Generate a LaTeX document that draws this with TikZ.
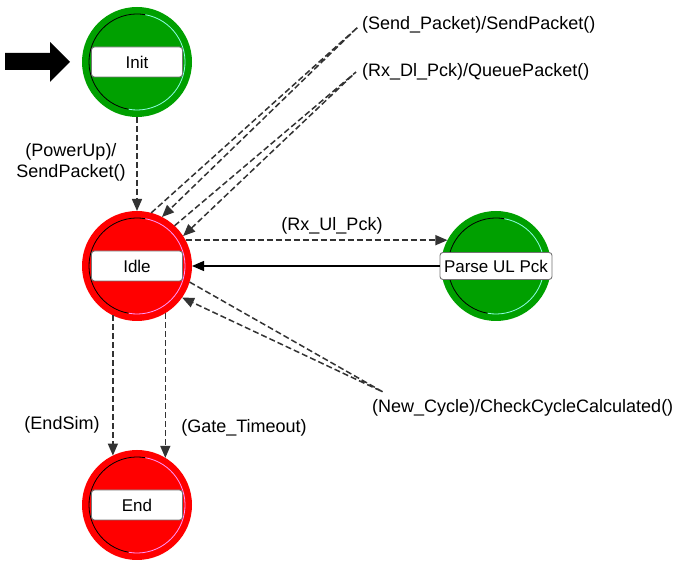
\documentclass[tikz,border=0pt]{standalone}
\usepackage{fontspec}
\setmainfont{Liberation Sans}
\usetikzlibrary{arrows.meta}
\definecolor{stgreen}{RGB}{0,160,0}
\definecolor{stred}{RGB}{255,0,0}
\definecolor{ringcyan}{RGB}{140,255,230}
\definecolor{ringpink}{RGB}{255,150,255}
\begin{document}
\begin{tikzpicture}[x=1pt,y=1pt,
  stcircle/.style={circle, minimum size=110pt, inner sep=0pt, outer sep=0pt},
  stbox/.style={draw=black!55, fill=white, rounded corners=3pt, line width=0.9pt,
    minimum height=30pt, minimum width=91pt, inner sep=0pt, font=\fontsize{17}{20}\selectfont},
  tip/.style={-{Triangle[length=12pt,width=10pt]}},
  trans/.style={draw=black!80, line width=1.5pt, dash pattern=on 6pt off 3pt, tip},
  lbl/.style={font=\fontsize{18}{21}\selectfont, inner sep=0pt}]
\useasboundingbox (0,0) rectangle (676,561);

% states
\node[stcircle, fill=stgreen] (init)  at (137,499) {};
\node[stcircle, fill=stred]   (idle)  at (137,295) {};
\node[stcircle, fill=stred]   (endn)  at (137,56)  {};
\node[stcircle, fill=stgreen] (parse) at (496,295) {};

% inner rings
\foreach \n/\c in {init/ringcyan, idle/ringpink, endn/ringpink, parse/ringcyan}{
  \draw[black, line width=0.8pt] (\n.center) ++(80:48) arc[start angle=80, end angle=260, radius=48];
  \draw[\c, line width=0.8pt] (\n.center) ++(260:48) arc[start angle=260, end angle=440, radius=48];
}

% labels boxes
\node[stbox] (initB)  at (init)  {Init};
\node[stbox] (idleB)  at (idle)  {Idle};
\node[stbox] (endB)   at (endn)  {End};
\node[stbox, minimum width=112pt, minimum height=27pt] (parseB) at (parse) {Parse UL Pck};

% initial arrow
\fill[black] (5,508) -- (50,508) -- (50,519) -- (70,499) -- (50,479) -- (50,491) -- (5,491) -- cycle;

% transitions
\draw[trans] (init.south) -- (idle.north);
\node[lbl, align=center] (lpow) at (71,399) {(PowerUp)/\\SendPacket()};

\coordinate (t1) at (358,534);
\coordinate (t2) at (356,489);
\coordinate (t3) at (383,169);
\draw[trans] (idle.75) -- (t1) -- (idle.63);
\draw[trans] (idle.47) -- (t2) -- (idle.33);
\draw[trans] (idle.-17) -- (t3) -- (idle.-35);
\node[lbl, anchor=west] (lsend) at (362,536) {(Send\_Packet)/SendPacket()};
\node[lbl, anchor=west] (lrxdl) at (362,489) {(Rx\_Dl\_Pck)/QueuePacket()};
\node[lbl, anchor=west] (lnew)  at (372,153) {(New\_Cycle)/CheckCycleCalculated()};

\draw[trans] (idle.28) -- (parse.152);
\node[lbl] (lrxul) at (332,335) {(Rx\_Ul\_Pck)};
\draw[line width=1.2pt, tip] (parseB.west) -- (idle.east);

\draw[trans] (idle.-116) -- (endn.116);
\draw[trans] (idle.-59.4) -- (endn.59.4);
\node[lbl] (lend)  at (62,136)  {(EndSim)};
\node[lbl] (lgate) at (244,133) {(Gate\_Timeout)};
\end{tikzpicture}
\end{document}
